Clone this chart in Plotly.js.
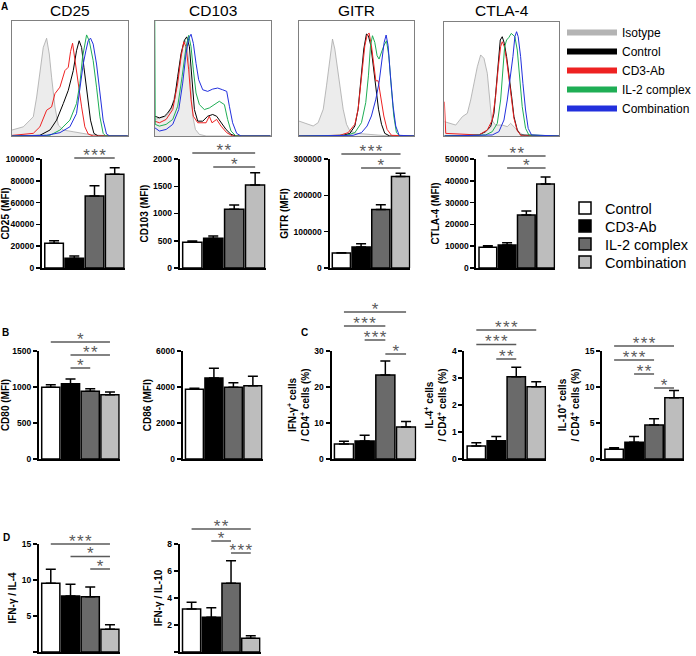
<!DOCTYPE html>
<html><head><meta charset="utf-8">
<script src="https://cdn.plot.ly/plotly-3.0.1.min.js"></script>
<style>html,body{margin:0;padding:0;background:#fff}#chart{width:696px;height:656px}</style>
</head><body><div id="chart"></div>
<script>
// ---------------- DATA ----------------
const groups = ['Control', 'CD3-Ab', 'IL-2 complex', 'Combination'];
const histSeries = ['Isotype', 'Control', 'CD3-Ab', 'IL-2 complex', 'Combination'];
const histMarkers = ['CD25', 'CD103', 'GITR', 'CTLA-4'];

// flow histograms (x: channel %, y: % of max)
const cd25_iso_x = [0,4,9.8,15.5,18.4,21.3,24.1,27,29.9,32.2,34.2,37.1,40,44.3,52.9,64.4,75.9,100];
const cd25_iso_y = [5.2,6.6,8,13.8,16.7,33.9,56.9,77,85,71.3,51.1,25.3,9.5,5.2,3.7,1.7,0.6,0];
const cd25_ctrl_x = [0,24.1,32.8,38.5,44.3,48.6,52.9,55.7,58,60.1,62.1,64.9,67.8,70.7,74.4,100];
const cd25_ctrl_y = [0,0.6,5.2,13.8,28.2,39.7,56.9,74.1,82.8,77,59.8,36.8,13.8,2.3,0,0];
const cd25_cd3_x = [0,18.4,24.1,29.9,34.2,37.1,41.4,45.7,48.6,50.6,52.3,54.3,57.2,60.1,62.9,65.8,70.1,100];
const cd25_cd3_y = [0.5,2.3,8,22.4,25.3,36.8,42.5,56.9,59.8,73.6,80.7,65.5,48.3,25.3,8,1.7,0,0];
const cd25_il2_x = [0,32.8,41.4,50,55.7,58.6,60.9,62.9,64.4,66.7,70.1,73,75.9,78.7,81,100];
const cd25_il2_y = [0,0.6,5.2,13.8,28.2,45.4,68.4,81.3,87.9,82.8,65.5,42.5,16.7,2.3,0,0];
const cd25_comb_x = [0,29.9,41.4,50,55.7,58.6,61.5,63.8,65.8,67.8,70.1,73,75.9,78.7,81.6,84.5,100];
const cd25_comb_y = [0,0.6,2.9,8,19.5,42.5,62.6,74.1,82.8,85.1,79.9,62.6,36.8,13.8,1.7,0,0];

const cd103_iso_x = [0,4,9.8,14.1,18.4,21.3,24.1,26.1,27.9,29.9,31.3,32.8,35.1,38.5,44.3,100];
const cd103_iso_y = [14.4,15.8,17.2,23,40.2,60.3,77.6,83.3,77.6,60.3,37.4,17.2,5.7,1.4,0,0];
const cd103_ctrl_x = [0,4,8.3,11.2,14.1,17,19.8,22.7,25.6,27.6,29.9,32.2,34.2,37.1,41.4,45.7,50,53.4,57.2,61.5,65.8,70.1,100];
const cd103_ctrl_y = [17.2,15.8,17.2,20.1,24.4,31.6,51.7,71.8,83.3,86.2,77.6,51.7,23,12.9,12.9,17.2,18.7,17.2,11.5,5.7,1.4,0,0];
const cd103_cd3_x = [0,4,9.8,15.5,19.8,22.7,25,27,29.3,31.3,33.3,37.1,44.3,47.1,49.4,53.4,57.2,62.1,67.2,100];
const cd103_cd3_y = [12.9,11.5,14.4,23,46,69,81.9,77.6,57.5,31.6,17.2,11.5,11.5,17.2,11.5,14.4,8.6,2.9,0,0];
const cd103_il2_x = [0,0.4,4,9.8,15.5,19.8,23.6,27,29.3,31.3,33.3,35.6,38.5,42.8,47.1,51.4,55.7,60.1,62.9,65.8,70.1,100];
const cd103_il2_y = [100,10.1,8.6,10.1,14.4,25.9,51.7,77.6,87.6,77.6,57.5,37.4,27.3,23,24.4,27.3,30.2,27.3,14.4,4.3,0,0];
const cd103_comb_x = [0,4,9.8,15.5,20.7,24.1,27,29.3,31.3,33.3,35.6,37.9,41.4,45.7,50,54.3,58.6,62.1,64.4,67.2,70.7,74.4,100];
const cd103_comb_y = [7.2,4.3,5.7,10.1,23,46,71.8,84.8,88.5,80.5,63.2,48.9,40.2,38.8,40.8,41.7,40.2,38.8,25.9,11.5,2.3,0,0];

const gitr_iso_x = [0,4,8.3,12.6,16.9,21.3,24.1,27,29.3,31.3,33.3,35.6,38.5,41.4,44.3,50,61.5,73,78.7,100];
const gitr_iso_y = [13.1,11.6,10.2,8.7,11.6,23.3,43.6,66.9,84.3,75.6,61,43.6,23.3,10.2,4.4,2.3,1.5,0.6,0,0];
const gitr_ctrl_x = [0,38.5,44.3,48.6,51.4,54.3,56.3,58.6,60.3,62.4,64.4,66.7,69,71.6,74.4,78.7,100];
const gitr_ctrl_y = [0,0.6,2.3,8.7,23.3,52.3,75.6,88.7,87.2,78.5,61,40.7,23.3,10.2,2.3,0,0];
const gitr_cd3_x = [0,35.6,42.8,48.6,51.4,54.3,57.2,59.2,60.9,62.9,64.9,66.7,68.7,70.7,73.6,76.4,80.2,100];
const gitr_cd3_y = [0,0.6,2.9,10.2,23.3,52.3,78.5,87.8,89.5,78.5,64,48,48,34.9,17.4,5.8,0.6,0];
const gitr_il2_x = [0,41.4,48.6,54.3,58,60.3,62.1,63.8,65.8,67.8,69.5,71.6,73.6,75.9,77.9,80.2,82.2,84.5,87.4,100];
const gitr_il2_y = [0,0.6,2.9,11.6,29.1,52.3,78.5,87.2,81.4,69.8,66.9,72.7,78.5,82.8,69.8,40.7,17.4,2.9,0,0];
const gitr_comb_x = [0,47.1,54.3,59.2,62.9,66.7,69.5,71.8,73.9,75.6,77.3,79.3,81.6,83.9,86.8,100];
const gitr_comb_y = [0,0.6,2.9,8.7,17.4,32,46.5,64,81.4,87.8,78.5,52.3,26.2,8.7,0.6,0];

const ctla4_iso_x = [0,4.1,9.9,15.7,20,22.9,25.8,28.7,31.6,34.5,37.4,39.4,41.2,44.6,50.4,54.8,57.7,60.6,66.4,70.7,100];
const ctla4_iso_y = [12.6,11.1,9.6,17,19.9,31.6,46.2,60.8,71.1,68.1,55,34.5,14,9.6,9.6,8.2,11.1,8.2,2.3,0,0];
const ctla4_ctrl_x = [0,30.1,35.9,40.3,43.2,45.2,47,48.7,50.4,52.2,54.2,56.2,58.6,60.6,63.5,66.4,100];
const ctla4_ctrl_y = [0,0.9,3.8,8.2,19.9,43.3,66.7,84.2,87.1,81.3,69.6,55,34.5,17,5.3,0.9,0];
const ctla4_cd3_x = [0,1.2,30.1,37.4,41.7,44.6,47,49,50.4,52.2,54.2,56.2,58.6,60.6,63.5,67.2,100];
const ctla4_cd3_y = [30.1,2.3,0.9,5.3,14,34.5,60.8,78.4,82.7,78.4,66.7,52,31.6,15.5,4.7,0,0];
const ctla4_il2_x = [0,35.9,41.7,46.1,49,51,52.5,54.2,56.2,58.3,59.7,61.4,63.5,65.5,67.8,70.7,73.6,100];
const ctla4_il2_y = [0,0.9,3.8,11.1,31.6,60.8,78.4,84.2,86.5,90,88.6,87.1,75.4,52,25.7,6.7,0.9,0];
const ctla4_comb_x = [0,41.7,47.5,51.9,54.8,57.7,59.7,61.4,62.9,64.3,66.4,68.4,70.7,73,75.9,100];
const ctla4_comb_y = [0,0.9,3.8,14,31.6,52,69.6,87.1,91.5,87.1,69.6,46.2,22.8,6.7,0.9,0];

// bar charts: means, errors (SEM), y tick labels, significance [from, to, label]
const cd25Mean = [22600, 8900, 66000, 86000];
const cd25Err = [2500, 2000, 9500, 6000];
const cd25Ticks = [0, 20000, 40000, 60000, 80000, 100000];
const cd25Sig = [[1, 3, '***']];

const cd103Mean = [471, 545, 1077, 1523];
const cd103Err = [25, 40, 80, 225];
const cd103Ticks = [0, 500, 1000, 1500, 2000];
const cd103Sig = [[0, 3, '**'], [1, 3, '*']];

const gitrMean = [41000, 58000, 161000, 252000];
const gitrErr = [1000, 9000, 13000, 9000];
const gitrTicks = [0, 100000, 200000, 300000];
const gitrSig = [[0, 3, '***'], [1, 3, '*']];

const ctla4Mean = [9500, 10600, 24300, 38500];
const ctla4Err = [700, 1000, 1800, 3200];
const ctla4Ticks = [0, 10000, 20000, 30000, 40000, 50000];
const ctla4Sig = [[0, 3, '**'], [1, 3, '*']];

const cd80Mean = [996, 1046, 940, 893];
const cd80Err = [36, 65, 36, 37];
const cd80Ticks = [0, 500, 1000, 1500];
const cd80Sig = [[0, 3, '*'], [1, 3, '**'], [1, 2, '*']];

const cd86Mean = [3870, 4500, 3983, 4074];
const cd86Err = [56, 540, 255, 520];
const cd86Ticks = [0, 2000, 4000, 6000];
const cd86Sig = [];

const ifngMean = [4.2, 5.0, 23.3, 8.9];
const ifngErr = [0.7, 1.6, 3.9, 1.5];
const ifngTicks = [0, 10, 20, 30];
const ifngSig = [[0, 3, '*'], [0, 2, '***'], [1, 2, '***'], [2, 3, '*']];

const il4Mean = [0.48, 0.68, 3.05, 2.68];
const il4Err = [0.12, 0.15, 0.35, 0.18];
const il4Ticks = [0, 1, 2, 3, 4];
const il4Sig = [[0, 3, '***'], [0, 2, '***'], [1, 2, '**']];

const il10Mean = [1.34, 2.31, 4.72, 8.5];
const il10Err = [0.23, 0.8, 0.88, 1.0];
const il10Ticks = [0, 5, 10, 15];
const il10Sig = [[0, 3, '***'], [0, 2, '***'], [1, 2, '**'], [2, 3, '*']];

const ratio4Mean = [9.54, 7.78, 7.69, 3.15];
const ratio4Err = [1.95, 1.62, 1.35, 0.65];
const ratio4Ticks = [0, 5, 10, 15];
const ratio4Sig = [[0, 3, '***'], [1, 3, '*'], [2, 3, '*']];

const ratio10Mean = [3.19, 2.57, 5.09, 1.01];
const ratio10Err = [0.5, 0.7, 1.67, 0.2];
const ratio10Ticks = [0, 2, 4, 6, 8];
const ratio10Sig = [[0, 3, '**'], [1, 2, '*'], [2, 3, '***']];

// ---------------- STYLE / LAYOUT ----------------
const W = 696, H = 656;
const FONT = 'Arial, "Liberation Sans", Helvetica, sans-serif';
const fx = p => p / W;
const fy = p => 1 - p / H;
const histColors = ['#b4b4b4', '#000000', '#ee2222', '#1fae55', '#2230dd'];
const barColors = ['#ffffff', '#000000', '#6a6a6a', '#bdbdbd'];
const sigColor = '#5a5a5a';

const histPanels = [
  {data: [[cd25_iso_x, cd25_iso_y], [cd25_ctrl_x, cd25_ctrl_y], [cd25_cd3_x, cd25_cd3_y], [cd25_il2_x, cd25_il2_y], [cd25_comb_x, cd25_comb_y]], l: 12, r: 128, t: 21, b: 136},
  {data: [[cd103_iso_x, cd103_iso_y], [cd103_ctrl_x, cd103_ctrl_y], [cd103_cd3_x, cd103_cd3_y], [cd103_il2_x, cd103_il2_y], [cd103_comb_x, cd103_comb_y]], l: 155, r: 271, t: 21, b: 136},
  {data: [[gitr_iso_x, gitr_iso_y], [gitr_ctrl_x, gitr_ctrl_y], [gitr_cd3_x, gitr_cd3_y], [gitr_il2_x, gitr_il2_y], [gitr_comb_x, gitr_comb_y]], l: 299, r: 415, t: 21, b: 136},
  {data: [[ctla4_iso_x, ctla4_iso_y], [ctla4_ctrl_x, ctla4_ctrl_y], [ctla4_cd3_x, ctla4_cd3_y], [ctla4_il2_x, ctla4_il2_y], [ctla4_comb_x, ctla4_comb_y]], l: 445, r: 560, t: 22, b: 136}
];

const barCharts = [
  {mean: cd25Mean, err: cd25Err, ticks: cd25Ticks, sig: cd25Sig, title: 'CD25 (MFI)', l: 42, r: 125, top: 159, bot: 268, sigTop: 158, step: 14},
  {mean: cd103Mean, err: cd103Err, ticks: cd103Ticks, sig: cd103Sig, title: 'CD103 (MFI)', l: 180, r: 266, top: 159, bot: 268, sigTop: 153, step: 14},
  {mean: gitrMean, err: gitrErr, ticks: gitrTicks, sig: gitrSig, title: 'GITR (MFI)', l: 330, r: 411, top: 159, bot: 268, sigTop: 154, step: 14},
  {mean: ctla4Mean, err: ctla4Err, ticks: ctla4Ticks, sig: ctla4Sig, title: 'CTLA-4 (MFI)', l: 477, r: 556, top: 159, bot: 268, sigTop: 156, step: 12},
  {mean: cd80Mean, err: cd80Err, ticks: cd80Ticks, sig: cd80Sig, title: 'CD80 (MFI)', l: 39, r: 120, top: 351, bot: 459, sigTop: 342, step: 13},
  {mean: cd86Mean, err: cd86Err, ticks: cd86Ticks, sig: cd86Sig, title: 'CD86 (MFI)', l: 183, r: 263, top: 351, bot: 459, sigTop: 342, step: 13},
  {mean: ifngMean, err: ifngErr, ticks: ifngTicks, sig: ifngSig, title: 'IFN-γ<sup>+</sup> cells<br>/ CD4<sup>+</sup> cells (%)', l: 332, r: 417, top: 351, bot: 459, sigTop: 312, step: 14},
  {mean: il4Mean, err: il4Err, ticks: il4Ticks, sig: il4Sig, title: 'IL-4<sup>+</sup> cells<br>/ CD4<sup>+</sup> cells (%)', l: 465, r: 547, top: 351, bot: 459, sigTop: 330, step: 14.5},
  {mean: il10Mean, err: il10Err, ticks: il10Ticks, sig: il10Sig, title: 'IL-10<sup>+</sup> cells<br>/ CD4<sup>+</sup> cells (%)', l: 603, r: 685, top: 351, bot: 459, sigTop: 346, step: 14},
  {mean: ratio4Mean, err: ratio4Err, ticks: ratio4Ticks, sig: ratio4Sig, title: 'IFN-γ / IL-4', l: 39, r: 120, top: 544, bot: 652, sigTop: 544, step: 12.5},
  {mean: ratio10Mean, err: ratio10Err, ticks: ratio10Ticks, sig: ratio10Sig, title: 'IFN-γ / IL-10', l: 180, r: 261, top: 544, bot: 652, sigTop: 529, step: 12}
];

const traces = [];
const layout = {
  width: W, height: H,
  margin: {l: 0, r: 0, t: 0, b: 0},
  paper_bgcolor: '#ffffff', plot_bgcolor: 'rgba(0,0,0,0)',
  font: {family: FONT, color: '#000'},
  showlegend: true, barmode: 'overlay',
  annotations: [], hovermode: false
};

// histogram panels
histPanels.forEach((p, k) => {
  const n = k + 1;
  const xa = 'x' + n, ya = 'y' + n;
  p.data.forEach((xy, s) => {
    traces.push({
      type: 'scatter', mode: 'lines', x: xy[0], y: xy[1], xaxis: xa, yaxis: ya,
      name: histSeries[s], showlegend: false,
      fill: s === 0 ? 'tozeroy' : 'none', fillcolor: '#ececec',
      line: {color: s === 0 ? '#a8a8a8' : histColors[s], width: s === 0 ? 0.8 : 1}
    });
  });
  layout['xaxis' + n] = {domain: [fx(p.l), fx(p.r)], anchor: ya, range: [0, 100], showline: true, mirror: true,
    linecolor: '#808080', linewidth: 1, showticklabels: false, ticks: '', showgrid: false, zeroline: false, fixedrange: true};
  layout['yaxis' + n] = {domain: [fy(p.b), fy(p.t)], anchor: xa, range: [0, 100], showline: true, mirror: true,
    linecolor: '#808080', linewidth: 1, showticklabels: false, ticks: '', showgrid: false, zeroline: false, fixedrange: true};
  layout.annotations.push({xref: 'paper', yref: 'paper', x: fx((p.l + p.r) / 2), y: fy(10), xanchor: 'center', yanchor: 'middle',
    text: histMarkers[k], showarrow: false, font: {size: 15.5, family: FONT, color: '#000'}});
});
// histogram legend entries
histSeries.forEach((name, s) => {
  traces.push({type: 'scatter', mode: 'lines', x: [null], y: [null], xaxis: 'x1', yaxis: 'y1', name: name,
    legend: 'legend', showlegend: true, line: {color: histColors[s], width: 6}});
});

// bar charts
const nH = histPanels.length;
barCharts.forEach((c, k) => {
  const n = nH + 1 + k;
  const sn = nH + 1 + barCharts.length + k;
  const xa = 'x' + n, ya = 'y' + n, sya = 'y' + sn;
  groups.forEach((g, i) => {
    const t = {
      type: 'bar', x: [i], y: [c.mean[i]], width: 0.92, xaxis: xa, yaxis: ya, name: g,
      marker: {color: barColors[i], line: {color: '#000', width: 1.5}},
      error_y: {type: 'data', array: [c.err[i]], arrayminus: [0], symmetric: false, color: '#000', thickness: 1.5, width: 5},
      showlegend: k === 0
    };
    if (k === 0) t.legend = i === 0 ? 'legend2' : 'legend' + (i + 2);
    traces.push(t);
  });
  const ymax = c.ticks[c.ticks.length - 1];
  layout['xaxis' + n] = {domain: [fx(c.l), fx(c.r)], anchor: ya, range: [-0.6, 3.5], showline: true, linecolor: '#000',
    linewidth: 2, showticklabels: false, ticks: '', showgrid: false, zeroline: false, fixedrange: true};
  layout['yaxis' + n] = {domain: [fy(c.bot), fy(c.top)], anchor: xa, range: [0, ymax], showline: true, linecolor: '#000',
    linewidth: 2, ticks: 'outside', ticklen: 4, tickwidth: 1.5, tickcolor: '#000', tickmode: 'array', tickvals: c.ticks,
    ticktext: c.ticks.map(String), tickfont: {size: 8.5, family: FONT, weight: 'bold', color: '#000'},
    showgrid: false, zeroline: false, fixedrange: true,
    title: {text: c.title, font: {size: 10, family: FONT, weight: 'bold', color: '#000'}, standoff: 3}};
  // significance overlay axis (level units, 0 = top line)
  const T = c.sigTop - 18, B = c.bot;
  layout['yaxis' + sn] = {domain: [fy(B), fy(T)], anchor: xa, range: [(B - c.sigTop) / c.step, (T - c.sigTop) / c.step],
    visible: false, fixedrange: true};
  c.sig.forEach((s, lev) => {
    traces.push({type: 'scatter', mode: 'lines', x: [s[0], s[1]], y: [lev, lev], xaxis: xa, yaxis: sya,
      showlegend: false, line: {color: sigColor, width: 1.3}, hoverinfo: 'skip'});
    traces.push({type: 'scatter', mode: 'text', x: [(s[0] + s[1]) / 2], y: [lev - 1.5 / c.step], xaxis: xa, yaxis: sya,
      showlegend: false, text: [s[2].split('').join('\u200A')], textposition: 'middle center', cliponaxis: false,
      textfont: {size: 17, family: FONT, color: sigColor}, hoverinfo: 'skip'});
  });
});

// legends
layout.legend = {x: fx(563), y: fy(18), xanchor: 'left', yanchor: 'top', bgcolor: 'rgba(0,0,0,0)', borderwidth: 0,
  font: {size: 12, family: FONT, color: '#000'}, itemwidth: 50, tracegroupgap: 0, traceorder: 'normal'};
const barLegendY = [208, 226, 244, 262];
barLegendY.forEach((py, i) => {
  const key = i === 0 ? 'legend2' : 'legend' + (i + 2);
  layout[key] = {x: fx(565), y: fy(py), xanchor: 'left', yanchor: 'middle', bgcolor: 'rgba(0,0,0,0)', borderwidth: 0,
    font: {size: 14.5, family: FONT, color: '#000'}, itemwidth: 30};
});

// panel letters
[['A', 5, 7], ['B', 6, 333], ['C', 305, 333], ['D', 7, 537]].forEach(a => {
  layout.annotations.push({xref: 'paper', yref: 'paper', x: fx(a[1]), y: fy(a[2]), xanchor: 'center', yanchor: 'middle',
    text: '<b>' + a[0] + '</b>', showarrow: false, font: {size: 10, family: FONT, color: '#000'}});
});

Plotly.newPlot('chart', traces, layout, {displayModeBar: false, staticPlot: true});
</script></body></html>
